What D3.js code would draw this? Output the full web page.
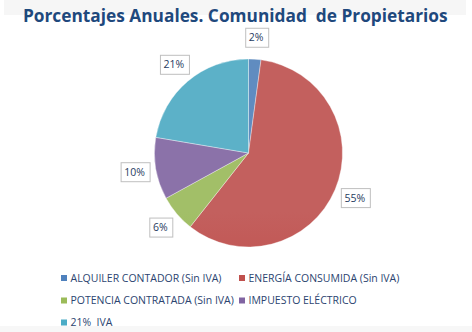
<!DOCTYPE html>
<html><head><meta charset="utf-8">
<script src="https://cdn.jsdelivr.net/npm/d3@7"></script>
<style>html,body{margin:0;padding:0;background:#fff;}svg{display:block;}</style>
</head><body>
<svg id="c" width="472" height="332"></svg>
<script>
const title = "Porcentajes Anuales. Comunidad  de Propietarios";
const categories = ["ALQUILER CONTADOR (Sin IVA)", "ENERGÍA CONSUMIDA (Sin IVA)", "POTENCIA CONTRATADA (Sin IVA)", "IMPUESTO ELÉCTRICO", "21%  IVA"];
const values = [2, 55, 6, 10, 21];
const labels = ["2%", "55%", "6%", "10%", "21%"];
const colors = ["#4F81BD", "#C0504D", "#9BBB59", "#8064A2", "#4BACC6"];

const FONT = "'Open Sans', 'Liberation Sans', sans-serif";
const svg = d3.select("#c");
const W = 472, H = 332;
const cx = 248.5, cy = 153, R = 94;

// faint background bands
svg.append("rect").attr("x", 4).attr("y", 0).attr("width", 462).attr("height", 15).attr("fill", "#f6f6f6");
svg.append("rect").attr("x", 0).attr("y", 326).attr("width", W).attr("height", 6).attr("fill", "#f7f7f7");

function fit(sel, target) {
  const n = sel.node();
  const w = n.getComputedTextLength();
  const fs = parseFloat(sel.attr("font-size"));
  sel.attr("font-size", (fs * target / w).toFixed(2));
}

// title
const t = svg.append("text").attr("x", 235.3).attr("y", 21.5).attr("text-anchor", "middle")
  .attr("font-family", FONT).attr("font-weight", "bold").attr("font-size", 18)
  .attr("fill", "#1F497D").style("white-space", "pre").text(title);
fit(t, 425);

// gradients
const defs = svg.append("defs");
colors.forEach((c, i) => {
  const g = defs.append("linearGradient").attr("id", "g" + i)
    .attr("gradientUnits", "userSpaceOnUse")
    .attr("x1", 0).attr("y1", cy - R).attr("x2", 0).attr("y2", cy + R);
  const bot = d3.hsl(c); bot.l *= 0.9; bot.s = Math.min(1, bot.s * 1.12);
  g.append("stop").attr("offset", "0%").attr("stop-color", d3.interpolateRgb(c, "#d9d9d9")(0.12));
  g.append("stop").attr("offset", "45%").attr("stop-color", c);
  g.append("stop").attr("offset", "100%").attr("stop-color", bot.formatHex());
});

const pie = d3.pie().sort(null).value(d => d);
const arcs = pie(values);
const arc = d3.arc().innerRadius(0).outerRadius(R);
const labelArc = d3.arc().innerRadius(115.5).outerRadius(115.5);

const g = svg.append("g").attr("transform", `translate(${cx},${cy})`);
g.selectAll("path.s").data(arcs).join("path").attr("class", "s")
  .attr("d", arc).attr("fill", (d, i) => `url(#g${i})`)
  .attr("stroke", "rgba(255,255,255,0.5)").attr("stroke-width", 0.7);

// labels
const lg = g.selectAll("g.lab").data(arcs).join("g").attr("class", "lab")
  .attr("transform", d => { const [x, y] = labelArc.centroid(d); return `translate(${x},${y})`; });
const lt = lg.append("text").attr("text-anchor", "middle").attr("dy", "0.35em")
  .attr("font-family", FONT).attr("font-size", 10.5).attr("fill", "#1F3B60")
  .text((d, i) => labels[i]);
lg.insert("rect", "text").each(function (d, i) {
  const w = lt.nodes()[i].getComputedTextLength();
  d3.select(this).attr("x", -Math.round(w / 2 + 4) + 0.5).attr("y", -9.5)
    .attr("width", Math.round(w + 8)).attr("height", 19)
    .attr("fill", "#fff").attr("stroke", "#BFBFBF").attr("stroke-width", 1);
});

// legend
const legX = [61, 239], legY = [278, 300.5, 322.5];
const leg = svg.selectAll("g.leg").data(categories).join("g").attr("class", "leg")
  .attr("transform", (d, i) => `translate(${legX[i % 2]},${legY[Math.floor(i / 2)]})`);
leg.append("rect").attr("x", 0).attr("y", -3).attr("width", 6).attr("height", 6)
  .attr("fill", (d, i) => colors[i]);
const ltx = leg.append("text").attr("x", 9.5).attr("dy", "0.35em")
  .attr("font-family", FONT).attr("font-size", 10).attr("fill", "#2B4470")
  .style("white-space", "pre").text(d => d);
const w0 = ltx.nodes()[0].getComputedTextLength();
ltx.attr("font-size", (10 * 151 / w0).toFixed(2));
</script>
</body></html>
